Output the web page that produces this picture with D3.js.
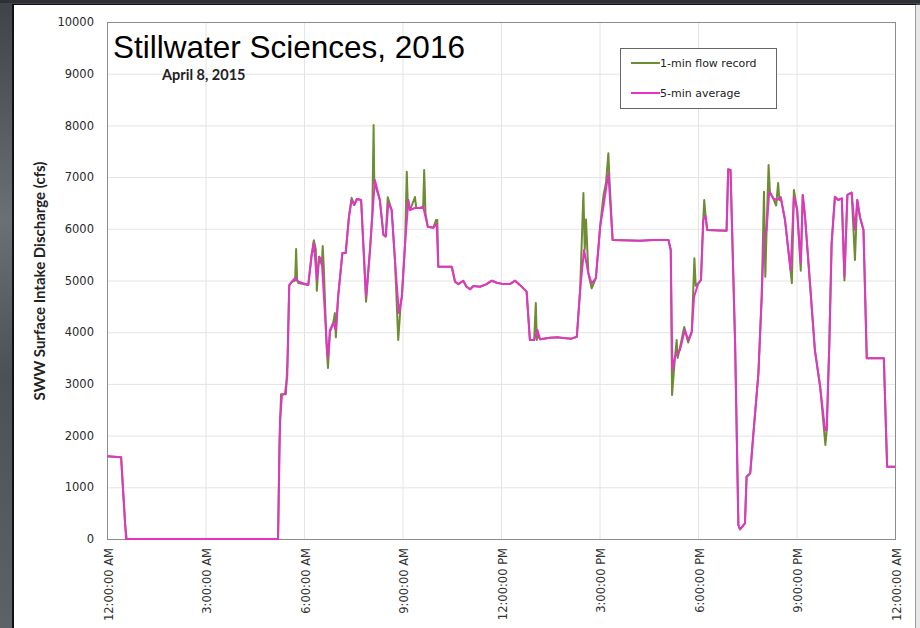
<!DOCTYPE html>
<html>
<head>
<meta charset="utf-8">
<script src="https://cdn.jsdelivr.net/npm/d3@7"></script>
<style>
html,body{margin:0;padding:0;background:#55595f;overflow:hidden;}
svg{display:block;}
</style>
</head>
<body>
<svg id="chart" width="920" height="628"></svg>
<script>
// ---- data (hours since midnight, cfs) ----
const xTickHours = [0, 3, 6, 9, 12, 15, 18, 21, 24];
const xTickLabels = ["12:00:00 AM","3:00:00 AM","6:00:00 AM","9:00:00 AM","12:00:00 PM","3:00:00 PM","6:00:00 PM","9:00:00 PM","12:00:00 AM"];
const yTicks = [0,1000,2000,3000,4000,5000,6000,7000,8000,9000,10000];
const seriesNames = ["1-min flow record", "5-min average"];

const avgTime = [0,0.43,0.58,5.21,5.27,5.33,5.42,5.49,5.55,5.63,5.73,5.83,6.13,6.23,6.30,6.39,6.46,6.54,6.69,6.73,6.79,6.89,6.97,7.04,7.17,7.27,7.37,7.45,7.53,7.61,7.74,7.89,8.01,8.08,8.16,8.31,8.42,8.49,8.57,8.67,8.77,8.89,8.98,9.08,9.18,9.23,9.38,9.53,9.63,9.77,9.94,10.04,10.09,10.50,10.60,10.70,10.85,10.95,11.06,11.16,11.36,11.56,11.72,11.87,12.07,12.27,12.43,12.58,12.78,12.88,13.01,13.11,13.19,13.49,13.75,13.90,14.15,14.31,14.41,14.53,14.66,14.76,14.89,15.02,15.12,15.27,15.40,16.23,16.64,17.10,17.17,17.22,17.30,17.45,17.60,17.70,17.81,17.88,18.01,18.09,18.16,18.23,18.28,18.87,18.92,18.99,19.13,19.23,19.28,19.43,19.48,19.59,19.68,19.84,19.94,20.01,20.09,20.17,20.29,20.40,20.52,20.65,20.82,20.92,21.02,21.13,21.19,21.26,21.41,21.56,21.72,21.87,21.92,22.00,22.07,22.17,22.27,22.38,22.46,22.55,22.68,22.78,22.85,22.93,23.04,23.14,23.66,23.76,24.00];
const avgFlow = [1600,1580,0,0,2300,2790,2810,3140,4913,4977,5048,4977,4913,5460,5725,5010,5460,5400,3790,3500,4042,4178,4042,4687,5532,5532,6234,6557,6460,6576,6557,4687,5590,6234,6944,6557,5880,5850,6499,6364,5397,4371,4687,5725,6557,6364,6402,6400,6428,6041,6020,6100,5267,5267,4977,4930,4996,4880,4830,4893,4880,4930,4996,4957,4930,4930,4996,4910,4785,3849,3849,4042,3862,3894,3900,3887,3875,3913,4816,5590,5139,4946,5048,6041,6428,7073,5783,5770,5783,5783,5590,3269,3526,3655,4042,3849,4010,4687,4946,5010,6170,6248,5977,5964,7150,7137,3785,271,188,304,1205,1270,1979,3205,4687,5848,5977,6718,6589,6557,6609,6170,5203,6621,6364,5332,6654,6234,4946,3655,2946,2108,2108,3785,5719,6621,6557,6589,5073,6654,6699,5977,6557,6234,5977,3495,3495,1399,1399];

const rawTime = [0,0.43,0.55,0.60,5.21,5.25,5.30,5.45,5.50,5.55,5.63,5.73,5.76,5.79,5.83,6.13,6.23,6.30,6.36,6.39,6.46,6.54,6.57,6.60,6.69,6.73,6.79,6.89,6.94,6.97,7.04,7.17,7.27,7.37,7.45,7.53,7.61,7.74,7.89,8.01,8.08,8.12,8.14,8.31,8.42,8.49,8.55,8.67,8.77,8.87,8.94,8.98,9.08,9.13,9.16,9.23,9.38,9.42,9.53,9.63,9.66,9.70,9.77,9.94,10.02,10.06,10.09,10.50,10.60,10.70,10.85,10.95,11.06,11.16,11.36,11.56,11.72,11.87,12.07,12.27,12.43,12.58,12.78,12.88,13.01,13.06,13.09,13.11,13.19,13.49,13.75,13.90,14.15,14.31,14.41,14.51,14.55,14.59,14.66,14.76,14.89,15.02,15.12,15.20,15.27,15.30,15.40,16.23,16.64,17.10,17.17,17.21,17.30,17.35,17.38,17.45,17.58,17.70,17.81,17.89,17.93,18.01,18.09,18.16,18.19,18.23,18.28,18.87,18.92,18.99,19.13,19.23,19.28,19.43,19.48,19.59,19.68,19.84,19.94,20.01,20.05,20.09,20.15,20.19,20.29,20.38,20.44,20.48,20.52,20.65,20.86,20.92,21.02,21.13,21.19,21.26,21.41,21.56,21.72,21.88,21.92,22.00,22.07,22.17,22.27,22.38,22.46,22.55,22.68,22.78,22.85,22.93,23.04,23.14,23.66,23.76,24.00];
const rawFlow = [1600,1580,300,0,0,1800,2800,2800,3500,4900,4977,5000,5609,5000,4950,4913,5500,5780,5600,4800,5460,5300,5667,5300,3700,3307,4000,4178,4370,3900,4700,5532,5532,6234,6600,6460,6576,6557,4590,5590,6300,8008,6900,6557,5880,5850,6611,6364,5397,3849,4500,4687,5725,7105,6500,6364,6615,6400,6400,6428,7137,6300,6041,6020,6170,6170,5267,5267,4977,4930,4996,4880,4830,4893,4880,4930,4996,4957,4930,4930,4996,4910,4785,3849,3849,4565,3849,3950,3862,3894,3900,3887,3875,3913,4816,6692,5600,6180,5139,4850,5048,6041,6641,6900,7460,7000,5783,5770,5783,5783,5590,2785,3526,3849,3500,3700,4100,3800,4000,5429,4900,4946,5010,6170,6557,6248,5977,5964,7150,7137,3785,271,188,304,1205,1270,1979,3205,4687,6718,5073,6000,7234,6718,6589,6450,6885,6557,6609,6170,4950,6750,6364,5190,6654,6234,4946,3655,2946,1818,2108,3785,5719,6621,6557,6589,5000,6654,6699,5397,6557,6234,5977,3495,3495,1399,1399];

// ---- layout ----
const svg = d3.select("#chart");
const W = 920, H = 628;
const plot = {left:107, right:895, top:22, bottom:539};

// background
const defs = svg.append("defs");
const bg = defs.append("linearGradient").attr("id","bg").attr("x1","0").attr("y1","0").attr("x2","0").attr("y2","1");
bg.append("stop").attr("offset","0").attr("stop-color","#3f4248");
bg.append("stop").attr("offset","0.35").attr("stop-color","#6b6f76");
bg.append("stop").attr("offset","0.6").attr("stop-color","#4c5057");
bg.append("stop").attr("offset","1").attr("stop-color","#5d6168");
svg.append("rect").attr("x",0).attr("y",0).attr("width",W).attr("height",H).attr("fill","url(#bg)");
svg.append("rect").attr("x",0).attr("y",0).attr("width",W).attr("height",3).attr("fill","#2e3035");
svg.append("rect").attr("x",12).attr("y",4).attr("width",904).attr("height",H-4).attr("fill","#111");
svg.append("rect").attr("x",14).attr("y",5).attr("width",901).attr("height",H-5).attr("fill","#ffffff");
svg.append("rect").attr("x",915).attr("y",5).attr("width",1).attr("height",H-5).attr("fill","#9a9a9a");
svg.append("rect").attr("x",916).attr("y",5).attr("width",4).attr("height",H-5).attr("fill","#e8e8e8");

const x = d3.scaleLinear().domain([0,24]).range([plot.left, plot.right]);
const y = d3.scaleLinear().domain([0,10000]).range([plot.bottom, plot.top]);

// gridlines
const grid = svg.append("g");
grid.selectAll("line.h").data(yTicks.slice(1,-1)).join("line")
  .attr("x1",plot.left).attr("x2",plot.right)
  .attr("y1",d=>y(d)+0.5).attr("y2",d=>y(d)+0.5)
  .attr("stroke","#e4e4e4").attr("stroke-width",1);
grid.selectAll("line.v").data(xTickHours.slice(1,-1)).join("line")
  .attr("y1",plot.top).attr("y2",plot.bottom)
  .attr("x1",d=>x(d)+0.5).attr("x2",d=>x(d)+0.5)
  .attr("stroke","#e4e4e4").attr("stroke-width",1);

// plot frame
svg.append("rect").attr("x",plot.left+0.5).attr("y",plot.top+0.5)
  .attr("width",plot.right-plot.left).attr("height",plot.bottom-plot.top)
  .attr("fill","none").attr("stroke","#8c8c8c").attr("stroke-width",1);

// y axis
const yAxis = d3.axisLeft(y).tickValues(yTicks).tickFormat(d3.format("d")).tickSize(0).tickPadding(13);
const gy = svg.append("g").attr("transform",`translate(${plot.left},0)`).call(yAxis);
gy.select(".domain").remove();
gy.selectAll("text").attr("font-family","DejaVu Sans, Verdana, sans-serif").attr("font-size","11.5px").attr("fill","#2a2a2a");

// x axis
const xAxis = d3.axisBottom(x).tickValues(xTickHours).tickFormat((d,i)=>xTickLabels[i]).tickSize(0);
const gx = svg.append("g").attr("transform",`translate(0,${plot.bottom})`).call(xAxis);
gx.select(".domain").remove();
gx.selectAll("text")
  .attr("font-family","DejaVu Sans, Verdana, sans-serif").attr("font-size","11.5px").attr("fill","#333")
  .attr("text-anchor","end").attr("dy",null).attr("y",0).attr("x",0)
  .attr("transform","translate(5,9) rotate(-90)");

// y title
svg.append("text").attr("transform","translate(45,281) rotate(-90)")
  .attr("text-anchor","middle").attr("font-family","Lato, 'Open Sans', sans-serif")
  .attr("font-weight","bold").attr("font-size","15px").attr("fill","#222")
  .text("SWW Surface Intake Discharge (cfs)");

// lines
const rawData = rawTime.map((t,i)=>[t, rawFlow[i]]);
const avgData = avgTime.map((t,i)=>[t, avgFlow[i]]);
const line = d3.line().x(d=>x(d[0])).y(d=>y(d[1]));
const green = "#6d8c34", pink = "#e235c6";
svg.append("path").datum(rawData).attr("d",line).attr("fill","none").attr("stroke",green).attr("stroke-width",2).attr("stroke-linejoin","round");
svg.append("path").datum(avgData).attr("d",line).attr("fill","none").attr("stroke",pink).attr("stroke-width",2).attr("stroke-linejoin","round");

// title texts
svg.append("text").attr("x",113).attr("y",58)
  .attr("font-family","Liberation Sans, Arial, sans-serif").attr("font-size","31.5px").attr("fill","#000")
  .text("Stillwater Sciences, 2016");
svg.append("text").attr("x",162).attr("y",80)
  .attr("font-family","Lato, 'Open Sans', sans-serif").attr("font-weight","bold").attr("font-size","14.5px").attr("fill","#222")
  .text("April 8, 2015");

// legend
const lg = svg.append("g");
lg.append("rect").attr("x",620.5).attr("y",48.5).attr("width",156).attr("height",60)
  .attr("fill","#fff").attr("stroke","#666").attr("stroke-width",1);
const legColors = [green, pink];
seriesNames.forEach((name,i)=>{
  const yy = 63 + i*30;
  lg.append("line").attr("x1",631).attr("x2",660).attr("y1",yy).attr("y2",yy)
    .attr("stroke",legColors[i]).attr("stroke-width",2);
  lg.append("text").attr("x",660).attr("y",yy+4)
    .attr("font-family","DejaVu Sans, Verdana, sans-serif").attr("font-size","11px").attr("fill","#222")
    .text(name);
});
</script>
</body>
</html>
